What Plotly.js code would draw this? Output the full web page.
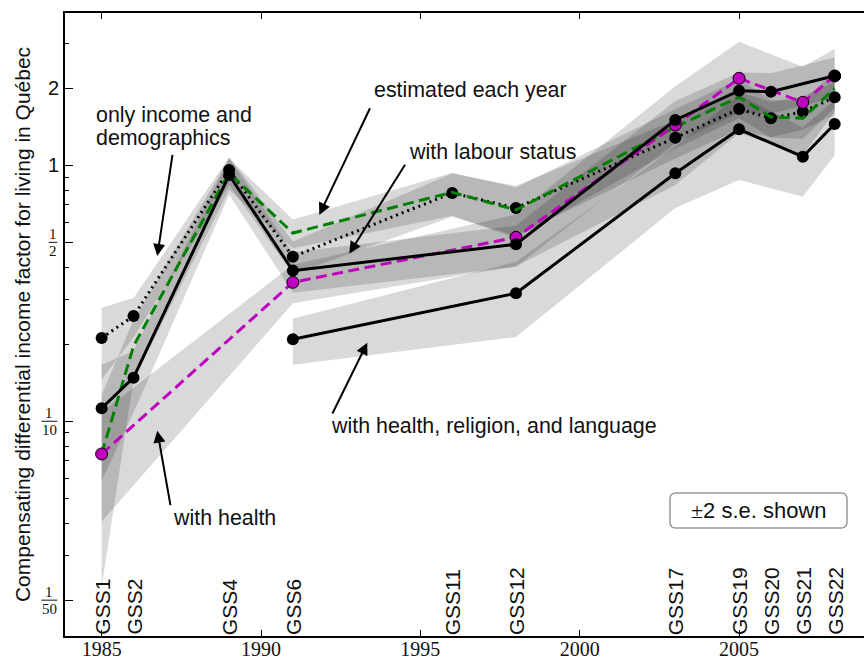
<!DOCTYPE html>
<html>
<head>
<meta charset="utf-8">
<script src="https://cdn.plot.ly/plotly-3.0.1.min.js"></script>
<style>
  html, body { margin: 0; padding: 0; background: #fff; }
  #chart { width: 864px; height: 665px; }
</style>
</head>
<body>
<div id="chart"></div>
<script>
// Survey cycles and their years
const surveys = ['GSS1', 'GSS2', 'GSS4', 'GSS6', 'GSS11', 'GSS12', 'GSS17', 'GSS19', 'GSS20', 'GSS21', 'GSS22'];
const years = [1985, 1986, 1989, 1991, 1996, 1998, 2003, 2005, 2006, 2007, 2008];

// Only income and demographics (black dotted)
const incomeDemoValues = [0.2115, 0.2578, 0.9586, 0.4395, 0.7794, 0.681, 1.282, 1.659, 1.526, 1.62, 1.843];
const incomeDemoTwoSE = [0.066, 0.045, 0.12, 0.064, 0.15, 0.15, 0.22, 0.28, 0.24, 0.24, 0.27];

// Estimated each year (green dashed)
const eachYearValues = [0.0745, 0.1968, 0.933, 0.5438, 0.7845, 0.669, 1.411, 1.848, 1.544, 1.526, 1.999];
const eachYearTwoSE = [0.052, 0.052, 0.13, 0.07, 0.15, 0.15, 0.25, 0.32, 0.26, 0.26, 0.32];

// With health (magenta dashed)
const healthYears = [1985, 1991, 1998, 2003, 2005, 2007, 2008];
const healthValues = [0.0745, 0.349, 0.5233, 1.437, 2.187, 1.762, 2.233];
const healthTwoSE = [0.034, 0.06, 0.12, 0.6, 0.85, 0.665, 0.614];

// With labour status (black solid, upper)
const labourYears = [1985, 1986, 1989, 1991, 1998, 2003, 2005, 2006, 2008];
const labourValues = [0.1124, 0.148, 0.9165, 0.3877, 0.4913, 1.503, 1.956, 1.939, 2.239];
const labourTwoSE = [0.054, 0.04, 0.15, 0.07, 0.09, 0.28, 0.35, 0.35, 0.4];

// With health, religion, and language (black solid, lower)
const hrlYears = [1991, 1998, 2003, 2005, 2007, 2008];
const hrlValues = [0.2091, 0.3162, 0.9305, 1.382, 1.08, 1.45];
const hrlTwoSE = [0.043, 0.103, 0.25, 0.506, 0.326, 0.353];

// Axis ticks
const xTickVals = [1985, 1990, 1995, 2000, 2005];
const yTickVals = [1 / 50, 1 / 10, 1 / 2, 1, 2];
const yTickText = ['', '', '', '1', '2'];
const yMinorVals = [0.03, 0.04, 0.05, 0.06, 0.07, 0.08, 0.09, 0.2, 0.3, 0.4, 0.6, 0.7, 0.8, 0.9, 3];
const fracValues = [1 / 50, 1 / 10, 1 / 2];
const fracDenominators = ['50', '10', '2'];

// Axis ranges (y in log10 units)
const xRange = [1983.85, 2008.92];
const yRange = [-1.839, 0.595];

// Plot-area geometry (pixels) used to place text and arrows
const PL = 65, PW = 799, PT = 13, PB = 636;
const px2x = px => (px - PL) / PW;
const px2y = py => (PB - py) / (PB - PT);
const log2paper = v => (Math.log10(v) - yRange[0]) / (yRange[1] - yRange[0]);

function band(xs, vals, twoSE) {
  const hi = vals.map((v, i) => v + twoSE[i]);
  const lo = vals.map((v, i) => v - twoSE[i]);
  return {
    x: xs.concat(xs.slice().reverse()),
    y: hi.concat(lo.slice().reverse()),
    type: 'scatter', mode: 'lines', fill: 'toself',
    fillcolor: 'rgba(0,0,0,0.15)', line: { width: 0 },
    hoverinfo: 'skip', showlegend: false
  };
}

const markerSize = 12;
const traces = [
  band(years, incomeDemoValues, incomeDemoTwoSE),
  band(years, eachYearValues, eachYearTwoSE),
  band(healthYears, healthValues, healthTwoSE),
  band(labourYears, labourValues, labourTwoSE),
  band(hrlYears, hrlValues, hrlTwoSE),
  {
    x: years, y: incomeDemoValues, type: 'scatter', mode: 'lines+markers',
    line: { color: 'black', width: 3, dash: '2px,4px' },
    marker: { color: 'black', size: markerSize }, showlegend: false
  },
  {
    x: years, y: eachYearValues, type: 'scatter', mode: 'lines',
    line: { color: '#008000', width: 3, dash: '11px,5.5px' }, showlegend: false
  },
  {
    x: healthYears, y: healthValues, type: 'scatter', mode: 'lines+markers',
    line: { color: '#bf00bf', width: 3, dash: '11px,5.5px' },
    marker: { color: '#bf00bf', size: markerSize, line: { color: 'black', width: 1 } }, showlegend: false
  },
  {
    x: labourYears, y: labourValues, type: 'scatter', mode: 'lines+markers',
    line: { color: 'black', width: 3 },
    marker: { color: 'black', size: markerSize }, showlegend: false
  },
  {
    x: hrlYears, y: hrlValues, type: 'scatter', mode: 'lines+markers',
    line: { color: 'black', width: 3 },
    marker: { color: 'black', size: markerSize }, showlegend: false
  }
];

const sans = 'Liberation Sans, Arial, sans-serif';
const serif = 'Liberation Serif, Times New Roman, serif';
const txtColor = '#111';

const annotations = [];
const shapes = [];

// Survey cycle labels standing on the x axis
surveys.forEach((s, i) => {
  annotations.push({
    x: years[i], xref: 'x', y: 0, yref: 'paper', yshift: -1, text: s, textangle: -90,
    xanchor: 'center', yanchor: 'bottom', showarrow: false,
    font: { family: sans, size: 21, color: txtColor }
  });
});

// Fractional tick labels on the log axis
fracValues.forEach((v, i) => {
  const w = 7.5 * fracDenominators[i].length + 1;
  const cx = -(7.7 + w / 2);
  const py = log2paper(v);
  annotations.push({
    x: 0, xref: 'paper', xshift: cx, y: py, yref: 'paper', yshift: 8, text: '1',
    showarrow: false, xanchor: 'center', yanchor: 'middle',
    font: { family: serif, size: 15, color: txtColor }
  });
  annotations.push({
    x: 0, xref: 'paper', xshift: cx, y: py, yref: 'paper', yshift: -9, text: fracDenominators[i],
    showarrow: false, xanchor: 'center', yanchor: 'middle',
    font: { family: serif, size: 15, color: txtColor }
  });
  shapes.push({
    type: 'line', xref: 'paper', yref: 'paper',
    x0: px2x(57.3 - w), x1: px2x(57.3), y0: py, y1: py,
    line: { color: txtColor, width: 1 }
  });
});

// Reference level: no difference
shapes.push({
  type: 'line', xref: 'paper', yref: 'y', x0: 0, x1: 1, y0: 0, y1: 0,
  layer: 'below', line: { color: 'black', width: 1, dash: '1px,3px' }
});

// Labels for each specification
const labelFont = { family: sans, size: 21.4, color: txtColor };
function label(text, px, py, anchor) {
  annotations.push({
    x: px2x(px), y: px2y(py), xref: 'paper', yref: 'paper', text: text,
    showarrow: false, xanchor: anchor || 'left', yanchor: 'middle', font: labelFont
  });
}
label('only income and', 94, 115);
label('demographics', 94, 138);
label('estimated each year', 372, 90);
label('with labour status', 407, 152);
label('with health, religion, and language', 329, 426);
label('with health', 171, 518);

// Arrows from labels to curves (head at x,y; tail offset in pixels)
function arrow(hx, hy, tx, ty) {
  annotations.push({
    x: px2x(hx), y: px2y(hy), xref: 'paper', yref: 'paper', text: '',
    showarrow: true, ax: tx - hx, ay: ty - hy, arrowhead: 2, arrowsize: 1.2,
    arrowwidth: 2, arrowcolor: 'black', standoff: 0
  });
}
arrow(157.3, 256, 172.7, 153.3);
arrow(319.3, 215, 370.7, 106.7);
arrow(349.3, 253.5, 406, 163.3);
arrow(367.3, 342.7, 331.7, 415);
arrow(157.3, 430.7, 170.7, 506.7);

// "±2 s.e." note in a rounded box
(function () {
  const x0 = px2x(670), x1 = px2x(847), yTop = px2y(493), yBot = px2y(528);
  const rx = 6 / PW, ry = 6 / (PB - PT);
  const path = `M ${x0 + rx} ${yTop} L ${x1 - rx} ${yTop} Q ${x1} ${yTop} ${x1} ${yTop - ry} ` +
    `L ${x1} ${yBot + ry} Q ${x1} ${yBot} ${x1 - rx} ${yBot} L ${x0 + rx} ${yBot} ` +
    `Q ${x0} ${yBot} ${x0} ${yBot + ry} L ${x0} ${yTop - ry} Q ${x0} ${yTop} ${x0 + rx} ${yTop} Z`;
  shapes.push({
    type: 'path', xref: 'paper', yref: 'paper', path: path,
    fillcolor: 'white', line: { color: '#999', width: 1.5 }, layer: 'above'
  });
  annotations.push({
    x: px2x(758.5), y: px2y(510.5), xref: 'paper', yref: 'paper',
    text: '<span style="font-family:Liberation Serif">±</span>2 s.e. shown',
    showarrow: false, xanchor: 'center', yanchor: 'middle', font: { family: sans, size: 22, color: txtColor }
  });
})();

const layout = {
  width: 864, height: 665,
  margin: { l: PL, r: 0, t: PT, b: 665 - PB },
  paper_bgcolor: 'white', plot_bgcolor: 'white',
  showlegend: false,
  xaxis: {
    range: xRange, tickmode: 'array', tickvals: xTickVals,
    ticks: 'inside', ticklen: 6, tickwidth: 1, tickcolor: 'black',
    showline: true, linewidth: 2, linecolor: 'black', mirror: 'ticks',
    showgrid: false, zeroline: false, ticklabelstandoff: -6,
    tickfont: { family: serif, size: 20, color: txtColor }
  },
  yaxis: {
    type: 'log', range: yRange, tickmode: 'array',
    tickvals: yTickVals, ticktext: yTickText,
    ticks: 'inside', ticklen: 8, tickwidth: 1, tickcolor: 'black',
    minor: { tickmode: 'array', tickvals: yMinorVals, ticks: 'inside', ticklen: 4, tickwidth: 1, tickcolor: 'black' },
    showline: true, linewidth: 2, linecolor: 'black', mirror: false,
    showgrid: false, zeroline: false,
    tickfont: { family: sans, size: 20, color: txtColor },
    title: {
      text: 'Compensating differential income factor for living in Québec',
      font: { family: sans, size: 21, color: txtColor }, standoff: 12
    }
  },
  annotations: annotations,
  shapes: shapes
};

Plotly.newPlot('chart', traces, layout, { staticPlot: true, displayModeBar: false });
</script>
</body>
</html>
